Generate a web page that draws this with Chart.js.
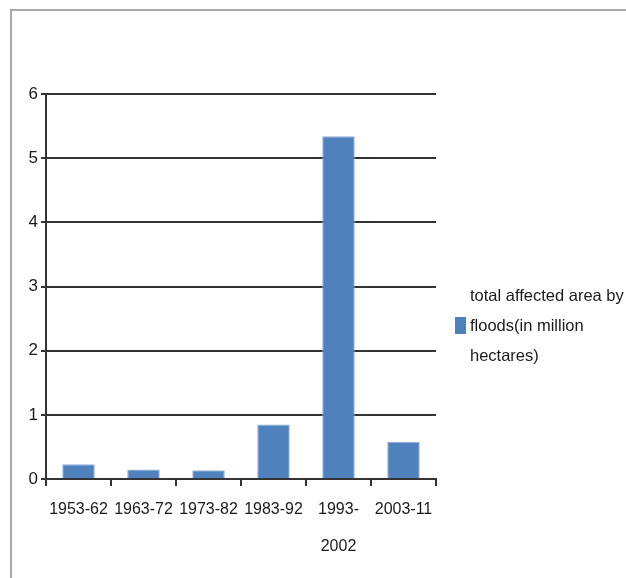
<!DOCTYPE html>
<html>
<head>
<meta charset="utf-8">
<title>Flood affected area</title>
<script src="https://cdn.jsdelivr.net/npm/chart.js@4.4.1/dist/chart.umd.min.js"></script>
<style>
    html, body { margin: 0; padding: 0; background: #fff; }
    #wrap { position: relative; width: 626px; height: 578px; overflow: hidden; }
    #frame {
        position: absolute; left: 10px; top: 9px; right: -5px; bottom: -5px;
        border-top: 2px solid #a8a8a8; border-left: 2px solid #a8a8a8;
    }
    #floodChart { position: absolute; left: 0; top: 0; }
</style>
</head>
<body>
<div id="wrap">
    <div id="frame"></div>
    <canvas id="floodChart" width="626" height="578"></canvas>
</div>
<script>
const periods = ['1953-62', '1963-72', '1973-82', '1983-92', ['1993-', '2002'], '2003-11'];
const affectedArea = [0.23, 0.15, 0.135, 0.85, 5.34, 0.58];
const seriesLabel = 'total affected area by floods(in million hectares)';
const legendLines = ['total affected area by', 'floods(in million', 'hectares)'];
const yTicks = [0, 1, 2, 3, 4, 5, 6];

const FONT = "'Liberation Sans', Arial, sans-serif";
const BAR_BLUE = '#4f81bd';

// Legend drawn by hand so the wrapped text sits beside a single swatch
const sideLegend = {
    id: 'sideLegend',
    afterDraw(chart) {
        const ctx = chart.ctx;
        const ds = chart.data.datasets[0];
        ctx.save();
        ctx.fillStyle = ds.backgroundColor;
        ctx.fillRect(455, 317, 11, 17);
        ctx.fillStyle = '#1a1a1a';
        ctx.font = '16.5px ' + FONT;
        ctx.textBaseline = 'middle';
        legendLines.forEach((line, i) => ctx.fillText(line, 470, 296 + i * 30));
        ctx.restore();
    }
};

const ctx = document.getElementById('floodChart').getContext('2d');
new Chart(ctx, {
    type: 'bar',
    data: {
        labels: periods,
        datasets: [{
            label: seriesLabel,
            data: affectedArea,
            backgroundColor: BAR_BLUE,
            borderColor: '#8eaedb',
            borderWidth: 1,
            barPercentage: 0.5,
            categoryPercentage: 1
        }]
    },
    options: {
        responsive: false,
        devicePixelRatio: 1,
        animation: false,
        layout: { padding: { top: 94, right: 190, bottom: 0, left: 0 } },
        plugins: {
            legend: { display: false },
            tooltip: { enabled: false }
        },
        scales: {
            x: {
                offset: true,
                grid: {
                    offset: true,
                    drawOnChartArea: false,
                    drawTicks: true,
                    tickLength: 7,
                    color: '#333',
                    lineWidth: 2
                },
                border: { display: true, color: '#333', width: 2 },
                ticks: {
                    color: '#1a1a1a',
                    font: { family: FONT, size: 16, lineHeight: '37px' },
                    padding: 5,
                    maxRotation: 0,
                    autoSkip: false
                },
                afterFit(scale) { scale.height = 99; }
            },
            y: {
                min: 0,
                max: 6,
                afterBuildTicks(scale) { scale.ticks = yTicks.map(v => ({ value: v })); },
                grid: {
                    color: '#333',
                    lineWidth: 2,
                    tickLength: 5
                },
                border: { display: true, color: '#333', width: 2 },
                ticks: {
                    color: '#1a1a1a',
                    font: { family: FONT, size: 17 },
                    padding: 3
                },
                afterFit(scale) { scale.width = 46; }
            }
        }
    },
    plugins: [sideLegend]
});
</script>
</body>
</html>
